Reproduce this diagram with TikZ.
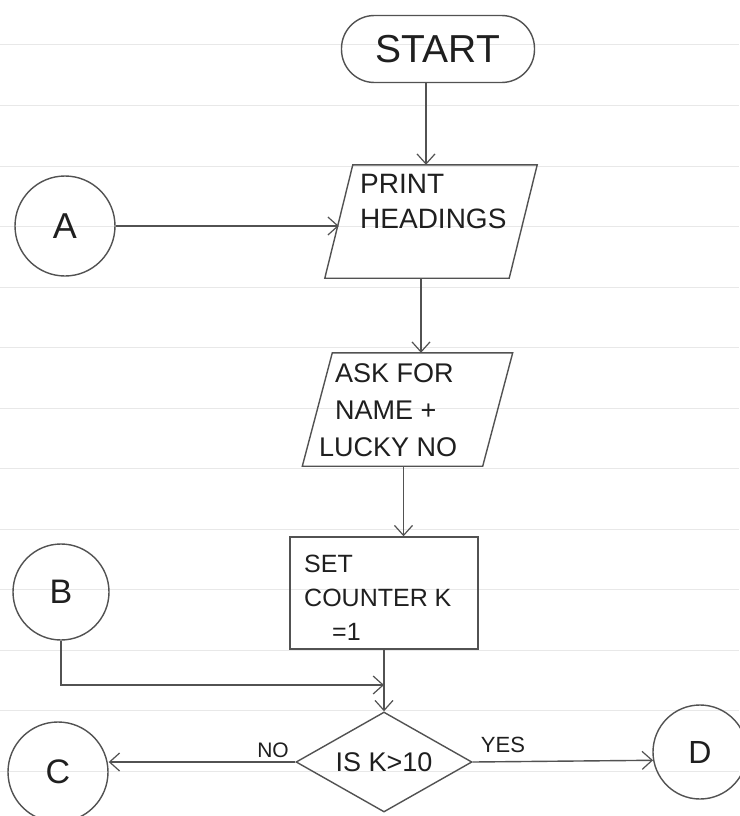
\documentclass[tikz,border=0pt]{standalone}
\usepackage{fontspec}
\setmainfont{Liberation Sans}
\usetikzlibrary{arrows.meta,shapes.geometric,calc}
\newcommand\fsz[2]{\fontsize{#1pt}{#2pt}\selectfont}
\begin{document}
\begin{tikzpicture}[x=1pt,y=-1pt,
  pen/.style={draw=black!68, line width=1.4pt},
  arr/.style={pen, -{Straight Barb[length=10pt,width=18pt,line width=1.2pt]}},
  txt/.style={text=black!88, inner sep=0pt},
  circ/.style={pen, circle, inner sep=0pt, text=black!88},
  rule/.style={draw=black!9, line width=1pt}]
\fill[white] (0,0) rectangle (739,816);
\useasboundingbox (0,0) rectangle (739,816);
\foreach \k in {0,...,12} \draw[rule] (0,45+60.5*\k) -- (739,45+60.5*\k);

% START
\node[pen, rounded corners=33pt, minimum width=193pt, minimum height=67pt,
      text=black!88, font=\fsz{39}{40}] (start) at (438,49) {START};

% PRINT HEADINGS (parallelogram)
\node[minimum width=184pt, minimum height=113pt, inner sep=0pt] (ph) at (431,221.5) {};
\draw[pen] ([xshift=14pt]ph.north west) -- ([xshift=14pt]ph.north east)
  -- ([xshift=-14pt]ph.south east) -- ([xshift=-14pt]ph.south west) -- cycle;
\node[txt, align=left, anchor=north west, font=\fsz{28}{35}] (phT) at (360,174) {PRINT\\HEADINGS};

% ASK FOR NAME + LUCKY NO (parallelogram)
\node[minimum width=180pt, minimum height=113pt, inner sep=0pt] (ask) at (407.5,409.5) {};
\draw[pen] ([xshift=15pt]ask.north west) -- ([xshift=15pt]ask.north east)
  -- ([xshift=-15pt]ask.south east) -- ([xshift=-15pt]ask.south west) -- cycle;
\node[txt, align=left, anchor=north west, font=\fsz{27}{37}] (askT) at (335,363)
  {ASK FOR\\NAME +\\\hspace*{-16pt}LUCKY NO};

% SET COUNTER K = 1
\node[pen, minimum width=188pt, minimum height=112pt] (set) at (384,593) {};
\node[txt, align=left, anchor=north west, font=\fsz{25}{34}] (setT) at (304,555)
  {SET\\COUNTER K\\\hspace*{28pt}=1};

% Decision
\node[pen, diamond, aspect=1.76, minimum width=176pt, minimum height=100pt,
      inner sep=0pt, text=black!88, font=\fsz{27}{30}] (dec) at (384,762) {IS K>10};

% Connectors (circles)
\node[circ, minimum size=100pt, font=\fsz{36}{40}] (A) at (65,226) {A};
\node[circ, minimum size=96pt, font=\fsz{34}{40}] (B) at (61,592) {B};
\node[circ, minimum size=100pt, font=\fsz{34}{40}] (C) at (58,772) {C};
\node[circ, minimum size=94pt, font=\fsz{32}{40}] (D) at (700,752) {D};

\coordinate (j) at (384,685);

% Arrows
\draw[arr] ([xshift=-12pt]start.south) -- ([xshift=-12pt]start.south |- ph.north);
\draw[arr] (A) -- (A -| ph.west);
\draw[arr] ([xshift=-10pt]ph.south) -- ([xshift=-10pt]ph.south |- ask.north);
\draw[arr] ([xshift=-4pt]ask.south) -- ([xshift=-4pt]ask.south |- set.north);
\draw[arr] (set.south) -- (dec.north);
\draw[arr] (B) |- (j);
\draw[arr] (dec.west) -- (dec.west -| C.east);
\draw[arr] (dec.east) -- (D.190);

% Labels
\node[txt, font=\fsz{21}{24}] (no) at (273,750) {NO};
\node[txt, font=\fsz{22}{24}] (yes) at (503,745) {YES};
\end{tikzpicture}
\end{document}
